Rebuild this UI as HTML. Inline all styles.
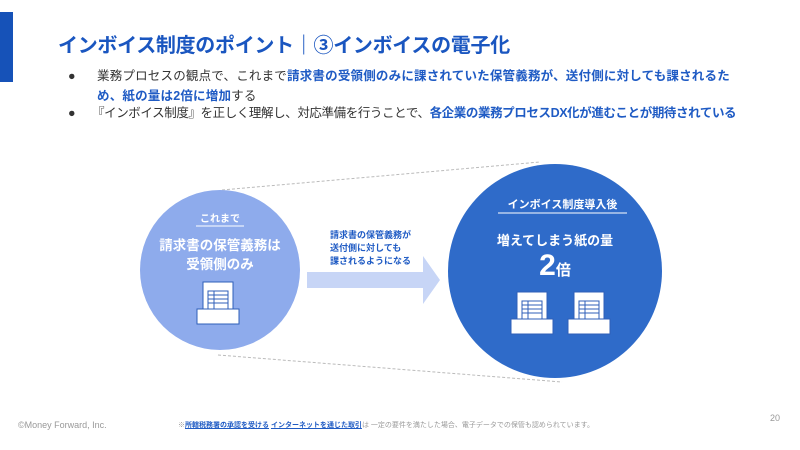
<!DOCTYPE html>
<html><head><meta charset="utf-8"><style>
body{margin:0;width:800px;height:450px;background:#fff;position:relative;overflow:hidden;font-family:"Liberation Sans","Noto Sans CJK JP",sans-serif}
.a{position:absolute;white-space:nowrap}
.b{color:#1f5bc4;font-weight:bold}
</style></head><body>
<div class="a" style="left:0;top:12px;width:13px;height:70px;background:#1652b8"></div>
<div class="a b" style="left:58px;top:29px;font-size:20px;color:#1a56c0;letter-spacing:-0.3px">インボイス制度のポイント｜③インボイスの電子化</div>
<div class="a" style="left:68px;top:66px;font-size:12.5px;color:#333;line-height:20px">●</div>
<div class="a" style="left:97px;top:66px;font-size:12.5px;color:#333;line-height:20px;letter-spacing:0.2px">業務プロセスの観点で、これまで<span class="b">請求書の受領側のみに課されていた保管義務が、送付側に対しても課されるた</span><br><span class="b">め、紙の量は2倍に増加</span>する</div>
<div class="a" style="left:68px;top:103px;font-size:12.5px;color:#333;line-height:20px">●</div>
<div class="a" style="left:92px;top:103px;font-size:12.5px;color:#333;line-height:20px;letter-spacing:-0.4px">『インボイス制度』を正しく理解し、対応準備を行うことで、<span class="b">各企業の業務プロセスDX化が進むことが期待されている</span></div>
<svg class="a" style="left:0;top:0" width="800" height="450">
<line x1="222" y1="190" x2="540" y2="162" stroke="#bbb" stroke-dasharray="3,2"/>
<line x1="218" y1="355" x2="562" y2="382" stroke="#bbb" stroke-dasharray="3,2"/>
<circle cx="220" cy="270" r="80" fill="#8eabec"/>
<circle cx="555" cy="271" r="107" fill="#2f6bc9"/>
<polygon points="307,272 423,272 423,256 440,280 423,304 423,288 307,288" fill="#c7d5f6"/>
<line x1="196" y1="226" x2="244" y2="226" stroke="#fff"/>
<line x1="498" y1="213" x2="627" y2="213" stroke="#fff"/>
<g id="doc" fill="#fff" stroke="#2f5fb8" stroke-width="1">
<rect x="203" y="282" width="30" height="34"/>
<rect x="208" y="291" width="20" height="18" fill="#fff"/>
<path d="M208 295h20M208 299h20M208 303h20M214 291v18" />
<rect x="197" y="309" width="42" height="15"/>
</g>
<use href="#doc" x="314" y="10"/>
<use href="#doc" x="371" y="10"/>
</svg>
<div class="a" style="left:196px;top:210px;font-size:10px;color:#fff;font-weight:bold;width:48px;text-align:center">これまで</div>
<div class="a" style="left:150px;top:236px;width:140px;text-align:center;font-size:13.5px;color:#fff;font-weight:bold;line-height:19px">請求書の保管義務は<br>受領側のみ</div>
<div class="a" style="left:330px;top:229px;font-size:9px;color:#1f5bc4;font-weight:bold;line-height:13px">請求書の保管義務が<br>送付側に対しても<br>課されるようになる</div>
<div class="a" style="left:498px;top:196px;width:129px;text-align:center;font-size:11px;color:#fff;font-weight:bold">インボイス制度導入後</div>
<div class="a" style="left:480px;top:230px;width:150px;text-align:center;font-size:13px;color:#fff;font-weight:bold">増えてしまう紙の量</div>
<div class="a" style="left:480px;top:249px;width:150px;text-align:center;color:#fff;font-weight:bold"><span style="font-size:30px">2</span><span style="font-size:15px">倍</span></div>
<div class="a" style="left:18px;top:420px;font-size:9px;color:#999">©Money Forward, Inc.</div>
<div class="a" style="left:178px;top:420px;font-size:7px;color:#999">※<u class="b">所轄税務署の承認を受ける</u> <u class="b">インターネットを通じた取引</u>は 一定の要件を満たした場合、電子データでの保管も認められています。</div>
<div class="a" style="left:770px;top:413px;font-size:9px;color:#999">20</div>
</body></html>
